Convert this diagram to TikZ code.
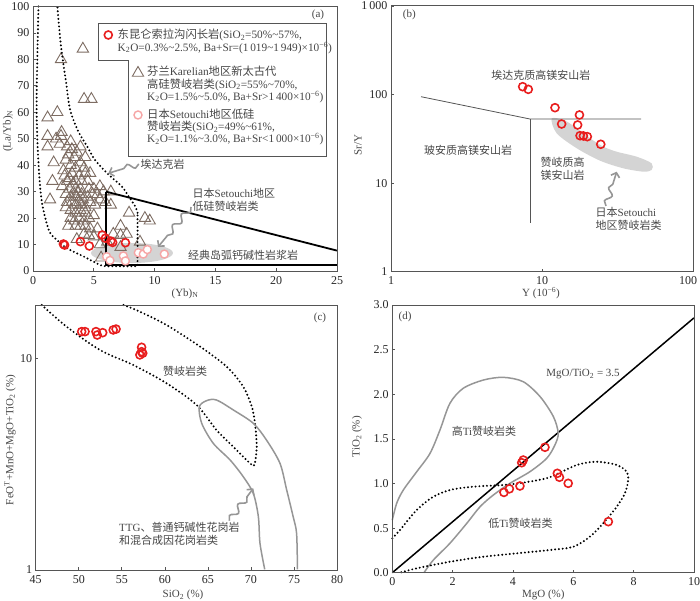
\documentclass[tikz,border=0pt]{standalone}
\usepackage{fontspec}
\setmainfont{Liberation Serif}
\newfontfamily\cjk{Noto Sans CJK SC}
\usetikzlibrary{arrows.meta,decorations.pathmorphing,shapes.geometric}
\newcommand{\zh}[1]{{\cjk #1}}
\definecolor{frameg}{RGB}{85,85,85}
\definecolor{trib}{RGB}{125,108,98}
\definecolor{redc}{RGB}{232,30,30}
\definecolor{pinkc}{RGB}{246,165,165}
\definecolor{arrg}{RGB}{150,150,150}
\definecolor{txtg}{RGB}{70,70,70}
\definecolor{blobg}{RGB}{212,212,212}
\tikzset{
  frame/.style={draw=frameg, line width=0.9pt},
  tickm/.style={draw=frameg, line width=0.7pt},
  ticklab/.style={font=\fontsize{12}{13}\selectfont, text=black!85, inner sep=1pt},
  dotline/.style={line width=2.2pt, dash pattern=on 0pt off 3.8pt, line cap=round},
  grayline/.style={draw=arrg, line width=1.5pt},
  redo/.style={circle, draw=redc, line width=1.6pt, minimum size=8pt, inner sep=0pt},
  pinko/.style={circle, draw=pinkc, fill=white, line width=1.4pt, minimum size=8pt, inner sep=0pt},
  tria/.style={regular polygon, regular polygon sides=3, draw=trib, line width=0.9pt, minimum size=13pt, inner sep=0pt},
  squig/.style={draw=arrg, line width=1.6pt, decorate,
    decoration={snake, amplitude=3pt, segment length=14pt, post length=10pt},
    -{Straight Barb[length=4pt,width=9pt]}},
  lab/.style={font=\fontsize{11}{12.5}\selectfont, text=txtg, inner sep=1.5pt},
  leg/.style={font=\fontsize{11.3}{12.3}\selectfont, text=txtg, align=left, anchor=west, inner sep=0pt},
}
\begin{document}
\begin{tikzpicture}[x=1pt,y=1pt]
  \useasboundingbox (0,0) rectangle (700,601);

  % ---------- (a) (Yb)N -- (La/Yb)N ----------
  \begin{scope}[shift={(33,330)}, x=12.16pt, y=2.645pt]
    \fill[blobg] (8.14,6.8) ellipse [x radius=41pt, y radius=10pt];
    \foreach \x/\y in {4.1/84, 2.3/80, 4.2/65, 4.8/65, 1.2/58, 2.0/60, 1.2/51, 1.9/50,
        2.3/51, 2.35/52.5, 1.2/47, 2.2/48, 3.1/49, 3.2/46, 1.7/41, 1.6/34, 1.4/27,
        4.7/37, 5.5/32, 6.4/30, 6.4/25, 7.9/22, 9.2/20, 9.6/19, 7.2/17, 7.2/13.5,
        8.8/11, 5.6/5, 2.8/47, 2.9/44, 2.7/42, 3.4/43, 3.6/45, 3.9/47, 3.1/40,
        3.5/39, 3.9/41, 4.3/43, 4.2/39, 2.5/38, 3.2/37, 3.8/36, 4.3/37, 2.8/34,
        3.5/34, 4.0/34, 4.5/34, 2.4/32, 3.0/31, 3.5/31, 3.9/31, 4.6/31, 5.0/31,
        2.7/29, 3.1/28, 3.4/29, 3.6/28, 4.0/29, 4.5/28, 4.9/29, 5.3/29, 5.8/30,
        2.8/26, 3.2/26, 3.5/25, 3.8/26, 4.0/25, 4.3/24, 4.7/26, 5.1/25, 5.5/27,
        2.7/24, 3.1/23, 3.5/22, 3.9/23, 4.3/22, 4.6/20, 5.0/21, 3.1/20, 3.4/19,
        3.8/20, 4.2/19, 2.9/17, 3.5/17, 3.9/17, 4.3/17, 4.7/16, 4.2/14, 4.6/13.5,
        5.0/13, 3.6/12, 5.3/16, 5.5/10, 6.1/11, 6.6/14, 7.2/9, 7.7/14, 3.3/33,
        3.7/30, 4.1/27, 3.0/35, 2.6/36, 5.96/26}
      \node[tria] at (\x,\y) {};
    % adakite field
    \draw[dotline] plot[smooth] coordinates {(0.45,100) (0.3,65) (0.4,45) (0.7,27)
        (1.3,15.5) (1.9,12) (2.8,8.6) (4.2,5.4) (5.5,2.3) (6,1.8)} -- (8.6,1.8)
        -- (8.6,22) plot[smooth] coordinates {(8.6,22) (8.4,24.5) (7.9,28) (7.3,32)
        (6.2,36.5) (5.1,42) (4.4,47.5) (3.7,53) (3.05,61) (2.7,72) (2.3,85) (2.0,100)};
    % island arc field
    \draw[line width=1.8pt] (6,30) -- (25,7.7);
    \draw[line width=1.8pt] (6,30) -- (6,2.3) -- (25,2.3);
    \foreach \x/\y in {6.06/5.4, 6.33/4.0, 7.43/5.7, 7.6/3.8, 8.66/6.9, 9.07/6.4,
        9.4/8.1, 10.8/6.4}
      \node[pinko] at (\x,\y) {};
    \foreach \x/\y in {2.5/10.2, 2.6/9.8, 3.9/11.1, 4.63/9.45, 5.69/13.6, 5.96/12.4,
        6.4/11.3, 6.55/10.8, 7.6/10.7}
      \node[redo] at (\x,\y) {};
    \draw[frame] (0,0) rectangle (25,100);
    \foreach \t in {0,5,...,25}{
      \draw[tickm] (\t,0) -- ++(0,2.5pt);
      \node[ticklab, below=4pt] at (\t,0) {\t};}
    \foreach \t in {0,10,...,100}{
      \draw[tickm] (0,\t) -- ++(2.5pt,0);
      \node[ticklab, left=2.5pt] at (0,\t) {\t};}
  \end{scope}

  % legend of (a)
  \draw[frameg, line width=0.8pt, fill=white] (98.3,577.7) -- (326.7,577.7) -- (326.7,444.3)
      -- (128.3,444.3) -- (128.3,541) -- (98.3,541) -- cycle;
  \node[redo] (legRed) at (108.3,566) {};
  \node[leg] (legRedTxt) at (117.5,559.5) {\zh{东昆仑索拉沟闪长岩}(SiO\textsubscript{2}=50\%\textasciitilde57\%,\\
      K\textsubscript{2}O=0.3\%\textasciitilde2.5\%, Ba+Sr=(1\,019\textasciitilde1\,949)×10\textsuperscript{−6})};
  \node[tria] (legTri) at (138,528) {};
  \node[leg] (legTriTxt) at (147,516.5) {\zh{芬兰}Karelian\zh{地区新太古代}\\
      \zh{高硅赞岐岩类}(SiO\textsubscript{2}=55\%\textasciitilde70\%,\\
      K\textsubscript{2}O=1.5\%\textasciitilde5.0\%, Ba+Sr>1\,400×10\textsuperscript{−6})};
  \node[pinko] (legPink) at (138,486) {};
  \node[leg] (legPinkTxt) at (147,474) {\zh{日本}Setouchi\zh{地区低硅}\\
      \zh{赞岐岩类}(SiO\textsubscript{2}=49\%\textasciitilde61\%,\\
      K\textsubscript{2}O=1.1\%\textasciitilde3.0\%, Ba+Sr<1\,000×10\textsuperscript{−6})};

  % labels of (a)
  \node[lab] at (318,586) {(a)};
  \node[lab] (adakLab) at (162.5,437) {\zh{埃达克岩}};
  \coordinate (adakTip) at (108.3,427.7);
  \draw[squig] (adakLab.west) -- (adakTip);
  \node[lab, align=left, anchor=west] (setoLab) at (191,401) {\zh{日本}Setouchi\zh{地区}\\\zh{低硅赞岐岩类}};
  \coordinate (setoTip) at (158,354);
  \draw[squig] ([yshift=6pt]setoLab.south west) -- (setoTip);
  \node[lab] (arcLab) at (243,346) {\zh{经典岛弧钙碱性岩浆岩}};
  \node[lab] (aXlab) at (185,307.5) {(Yb)\textsubscript{N}};
  \node[lab, rotate=90] (aYlab) at (8,470) {(La/Yb)\textsubscript{N}};

  % ---------- (b) Y -- Sr/Y (log) ----------
  \begin{scope}[shift={(391,329.3)}, x=151pt, y=88.6pt]
    \fill[blobg] plot[smooth cycle] coordinates {(1.064,1.731) (1.097,1.562) (1.23,1.393)
        (1.384,1.253) (1.538,1.167) (1.671,1.129) (1.726,1.148) (1.726,1.223)
        (1.627,1.298) (1.495,1.354) (1.406,1.411) (1.318,1.506) (1.23,1.619)
        (1.152,1.704)};
    \draw[frameg, line width=0.8pt] (0.199,1.975) -- (0.921,1.723) -- (1.656,1.723);
    \draw[frameg, line width=0.8pt] (0.921,1.723) -- (0.921,0.553);
    \foreach \x/\y in {0.872/2.088, 0.909/2.058, 1.086/1.851, 1.13/1.667, 1.248/1.769,
        1.236/1.656, 1.252/1.535, 1.274/1.532, 1.3/1.524, 1.389/1.438}
      \node[redo] at (\x,\y) {};
    \draw[frame] (0,0) rectangle (2,3);
    \foreach \t/\l/\s in {0/1/0, 1/10/0, 2/100/-5}{
      \draw[tickm] (\t,0) -- ++(0,2.5pt);
      \node[ticklab, below=4pt, xshift=\s pt] at (\t,0) {\l};}
    \foreach \t/\l in {0/1, 1/10, 2/100, 3/1\,000}{
      \draw[tickm] (0,\t) -- ++(2.5pt,0);
      \node[ticklab, left=2.5pt] at (0,\t) {\l};}
  \end{scope}
  \node[lab] at (409.3,586) {(b)};
  \node[lab] (adakHMA) at (540.8,526) {\zh{埃达克质高镁安山岩}};
  \node[lab] (boniHMA) at (468,451) {\zh{玻安质高镁安山岩}};
  \node[lab, align=left, anchor=west] (sanukHMA) at (539,432) {\zh{赞岐质高}\\\zh{镁安山岩}};
  \node[lab, align=left, anchor=west] (bsetoLab) at (594,382) {\zh{日本}Setouchi\\\zh{地区赞岐岩类}};
  \coordinate (bsetoTip) at (616.7,429.3);
  \draw[squig] ([xshift=12pt]bsetoLab.north west) -- (bsetoTip);
  \node[lab] (bXlab) at (541,307.5) {Y (10\textsuperscript{−6})};
  \node[lab, rotate=90] (bYlab) at (358,456) {Sr/Y};

  % ---------- (c) SiO2 -- FeOT+MnO+MgO+TiO2 (log) ----------
  \begin{scope}[shift={(-351.75,31)}, x=8.61pt, y=211.7pt]
    \draw[dotline] plot[smooth] coordinates {(45.7,1.252) (48.6,1.149) (52.47,1.039)
        (56.34,0.968) (60.2,0.882) (63.7,0.779) (66,0.661) (67.95,0.582) (69.9,0.504)
        (70.4,0.496) (70.67,0.582) (70.47,0.693) (70.1,0.771) (69.1,0.866) (67.2,0.96)
        (64.1,1.055) (60.2,1.157) (57.1,1.22) (55.2,1.252)};
    \draw[grayline] plot[smooth] coordinates {(71.6,0.003) (71.05,0.126) (70.86,0.252)
        (70.27,0.362) (69.1,0.441) (67.57,0.52) (65.63,0.598) (64.28,0.693) (64,0.771)
        (64.86,0.8) (66,0.803) (67.95,0.756) (70.27,0.693) (71.8,0.614) (73.37,0.504)
        (74.15,0.378) (74.9,0.252) (75.3,0.173) (75.4,0.003)};
    \foreach \x/\y in {50.34/1.126, 50.73/1.126, 52/1.126, 52.15/1.11, 52.78/1.121,
        54/1.134, 54.33/1.138, 57.3/1.052, 57.3/1.031, 57.1/1.016, 57.43/1.024}
      \node[redo] at (\x,\y) {};
    \draw[frame] (45,0) rectangle (80,1.25);
    \foreach \t in {45,50,...,80}{
      \draw[tickm] (\t,0) -- ++(0,2.5pt);
      \node[ticklab, below=4pt] at (\t,0) {\t};}
    \foreach \t/\l in {0/1, 1/10}{
      \draw[tickm] (45,\t) -- ++(2.5pt,0);
      \node[ticklab, left=2.5pt] at (45,\t) {\l};}
  \end{scope}
  \node[lab] at (320,282.7) {(c)};
  \node[lab] (sanukC) at (185,229.3) {\zh{赞岐岩类}};
  \node[lab, align=left, anchor=west] (ttgLab) at (117.5,67.2) {TTG\zh{、普通钙碱性花岗岩}\\\zh{和混合成因花岗岩类}};
  \coordinate (ttgTip) at (253.3,112.7);
  \draw[squig] ([xshift=-12pt]ttgLab.north east) -- (ttgTip);
  \node[lab] (cXlab) at (183,6) {SiO\textsubscript{2} (\%)};
  \node[lab, rotate=90] (cYlab) at (10,161) {FeO\textsuperscript{T}+MnO+MgO+TiO\textsubscript{2} (\%)};

  % ---------- (d) MgO -- TiO2 ----------
  \begin{scope}[shift={(392.3,28.3)}, x=30.17pt, y=89.2pt]
    \draw[line width=1.5pt] (0,0) -- (10,2.857);
    \draw[grayline] plot[smooth] coordinates {(0,0.59) (0.145,0.778) (0.365,0.927)
        (0.81,1.132) (1.25,1.338) (1.58,1.6) (1.91,1.899) (2.35,2.067) (3.02,2.16)
        (3.68,2.19) (4.34,2.141) (4.9,1.973) (5.34,1.749) (5.5,1.563) (5.39,1.432)
        (5.12,1.283) (4.56,1.132) (3.9,1.002) (3.35,0.871) (2.91,0.74) (2.47,0.554)
        (1.91,0.33) (1.36,0.142) (1.05,0)};
    \draw[dotline] plot[smooth] coordinates {(0,0.385) (0.255,0.479) (0.81,0.703)
        (1.36,0.852) (1.91,0.927) (2.47,0.957) (3.02,0.972) (3.68,0.983) (4.33,1.009)
        (5.21,1.069) (6.11,1.207) (6.77,1.244) (7.44,1.207) (7.77,1.132) (7.82,1.039)
        (7.71,0.89) (7.44,0.74) (6.99,0.554) (6.55,0.404) (6,0.291) (5.21,0.254)
        (4.12,0.217) (3.02,0.179) (1.91,0.123) (0.81,0.049) (0.25,0)};
    \foreach \x/\y in {3.7/0.9, 3.88/0.94, 4.23/0.972, 4.29/1.233, 4.34/1.263,
        5.06/1.406, 5.47/1.114, 5.54/1.07, 5.83/1.002, 7.16/0.572}
      \node[redo] at (\x,\y) {};
    \draw[frame] (0,0) rectangle (10,3);
    \foreach \t in {0,2,...,10}{
      \draw[tickm] (\t,0) -- ++(0,2.5pt);
      \node[ticklab, below=4pt] at (\t,0) {\t};}
    \foreach \t in {0.0,0.5,1.0,1.5,2.0,2.5,3.0}{
      \draw[tickm] (0,\t) -- ++(2.5pt,0);
      \node[ticklab, left=2.5pt] at (0,\t) {\t};}
  \end{scope}
  \node[lab] at (405,284.3) {(d)};
  \node[lab] (highTi) at (484,169.3) {\zh{高}Ti\zh{赞岐岩类}};
  \node[lab] (lowTi) at (520.5,77.7) {\zh{低}Ti\zh{赞岐岩类}};
  \node[lab] (ratioLab) at (583,227) {MgO/TiO\textsubscript{2} = 3.5};
  \node[lab] (dXlab) at (543.3,6) {MgO (\%)};
  \node[lab, rotate=90] (dYlab) at (357,164.3) {TiO\textsubscript{2} (\%)};
\end{tikzpicture}
\end{document}
